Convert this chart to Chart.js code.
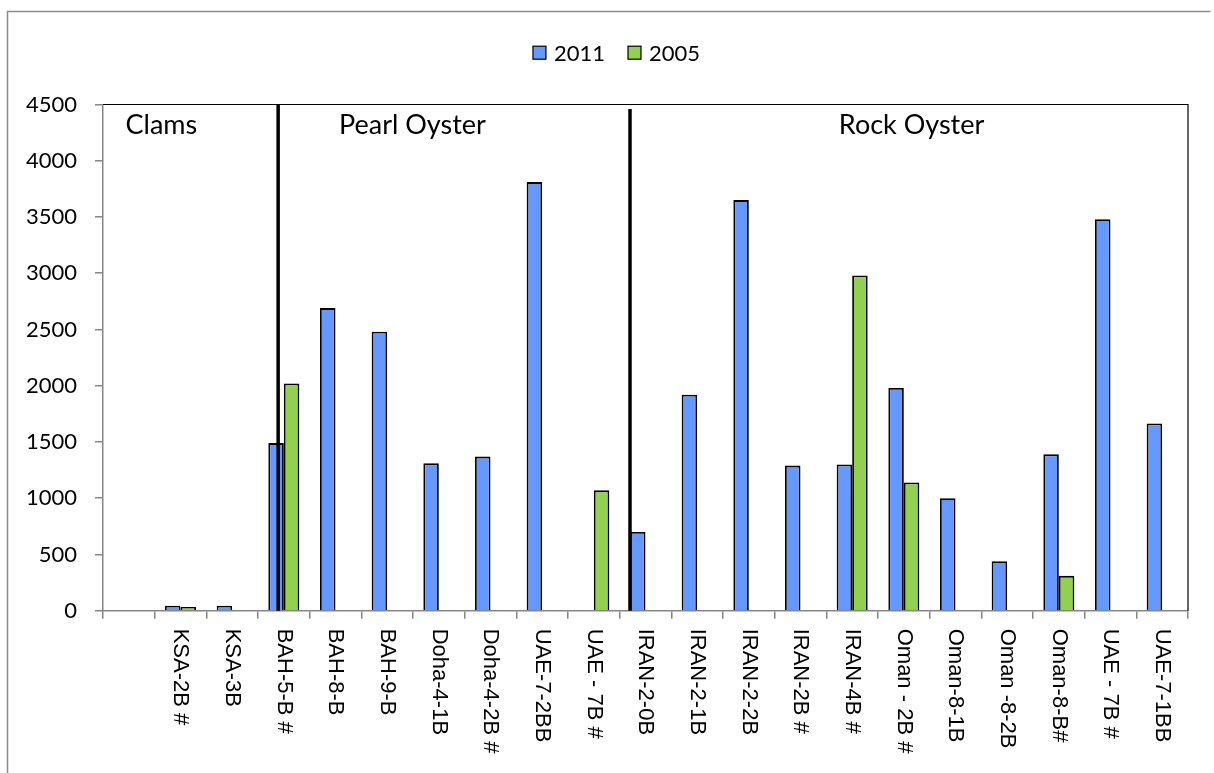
<!DOCTYPE html>
<html>
<head>
<meta charset="utf-8">
<script src="https://cdn.jsdelivr.net/npm/chart.js@4/dist/chart.umd.min.js"></script>
<style>
  html, body { margin: 0; padding: 0; background: #ffffff; }
  #wrap { width: 1214px; height: 773px; }
</style>
</head>
<body>
<div id="wrap"><canvas id="chart" width="1214" height="773"></canvas></div>
<script>
// Sampling sites (first slot left empty on the axis)
const categories = ['', 'KSA-2B #', 'KSA-3B', 'BAH-5-B #', 'BAH-8-B', 'BAH-9-B', 'Doha-4-1B',
  'Doha-4-2B #', 'UAE-7-2BB', 'UAE - 7B #', 'IRAN-2-0B', 'IRAN-2-1B', 'IRAN-2-2B', 'IRAN-2B #',
  'IRAN-4B #', 'Oman - 2B #', 'Oman-8-1B', 'Oman -8-2B', 'Oman-8-B#', 'UAE - 7B #', 'UAE-7-1BB'];

const values2011 = [null, 45, 45, 1490, 2690, 2480, 1310, 1370, 3810, null, 700, 1920, 3650,
  1290, 1300, 1980, 1000, 440, 1390, 3480, 1665];

const values2005 = [null, 32, null, 2020, null, null, null, null, null, 1070, null, null, null,
  null, 2980, 1140, null, null, 310, null, null];

const seriesNames = ['2011', '2005'];
const yTickValues = [0, 500, 1000, 1500, 2000, 2500, 3000, 3500, 4000, 4500];
const groupNames = ['Clams', 'Pearl Oyster', 'Rock Oyster'];

// Placement of the shellfish group captions and separators, in axis units
const groupLabelCenter = [0.63, 5.49, 15.15];
const dividerAt = [2.89, 9.70];
const dividerTop = [4500, 4460];

const AXIS_GREY = '#868686';

// Series key drawn above the plot, centred on the page
const seriesKey = {
  id: 'seriesKey',
  afterDraw(chart) {
    const { ctx } = chart;
    const box = 13, gapText = 8, gapItem = 23, centerX = 616.5, centerY = 52.7;
    ctx.save();
    ctx.font = '22px Lato';
    ctx.textBaseline = 'middle';
    ctx.textAlign = 'left';
    const items = chart.data.datasets.map(ds => ({
      text: ds.label, fill: ds.backgroundColor, width: ctx.measureText(ds.label).width
    }));
    const total = items.reduce((s, it) => s + box + gapText + it.width, 0) + gapItem * (items.length - 1);
    let cx = centerX - total / 2;
    items.forEach(it => {
      ctx.fillStyle = it.fill;
      ctx.fillRect(cx, centerY - box / 2, box, box);
      ctx.strokeStyle = '#000000';
      ctx.lineWidth = 1.2;
      ctx.strokeRect(cx, centerY - box / 2, box, box);
      ctx.fillStyle = '#000000';
      ctx.fillText(it.text, cx + box + gapText, centerY + 1);
      cx += box + gapText + it.width + gapItem;
    });
    ctx.restore();
  }
};

const decorations = {
  id: 'decorations',
  afterDatasetsDraw(chart) {
    const { ctx, chartArea, scales: { x, y } } = chart;
    ctx.save();
    // plot frame (top and right)
    ctx.strokeStyle = '#000000';
    ctx.lineWidth = 1.2;
    ctx.beginPath();
    ctx.moveTo(chartArea.left, chartArea.top);
    ctx.lineTo(chartArea.right, chartArea.top);
    ctx.lineTo(chartArea.right, chartArea.bottom);
    ctx.stroke();

    // group separators
    ctx.lineWidth = 3.5;
    dividerAt.forEach((pos, i) => {
      const px = x.getPixelForValue(pos);
      ctx.beginPath();
      ctx.moveTo(px, y.getPixelForValue(dividerTop[i]));
      ctx.lineTo(px, y.getPixelForValue(0));
      ctx.stroke();
    });

    // group captions
    ctx.fillStyle = '#000000';
    ctx.font = '27px Lato';
    ctx.textAlign = 'center';
    ctx.textBaseline = 'alphabetic';
    groupNames.forEach((name, i) => {
      ctx.fillText(name, x.getPixelForValue(groupLabelCenter[i]), chartArea.top + 29);
    });
    ctx.restore();
  },
  afterDraw(chart) {
    const { ctx, scales: { x } } = chart;
    ctx.save();
    // vertical category labels
    ctx.fillStyle = '#000000';
    ctx.font = '22px "Liberation Sans"';
    ctx.textAlign = 'left';
    ctx.textBaseline = 'middle';
    categories.forEach((label, i) => {
      if (!label) return;
      const px = x.getPixelForTick(i);
      ctx.save();
      ctx.translate(px, x.top + 18);
      ctx.rotate(Math.PI / 2);
      ctx.fillText(label, 0, 0);
      ctx.restore();
    });

    // outer frame
    ctx.strokeStyle = '#8c8c8c';
    ctx.lineWidth = 1.5;
    ctx.beginPath();
    ctx.moveTo(7.5, chart.height);
    ctx.lineTo(7.5, 11.5);
    ctx.lineTo(1210.5, 11.5);
    ctx.stroke();
    ctx.restore();
  }
};

new Chart(document.getElementById('chart'), {
  type: 'bar',
  data: {
    labels: categories,
    datasets: [
      {
        label: seriesNames[0],
        data: values2011,
        backgroundColor: '#6699FF',
        borderColor: '#000000',
        borderWidth: 1.8,
        categoryPercentage: 0.6,
        barPercentage: 1.0
      },
      {
        label: seriesNames[1],
        data: values2005,
        backgroundColor: '#92D050',
        borderColor: '#000000',
        borderWidth: 1.8,
        categoryPercentage: 0.6,
        barPercentage: 1.0
      }
    ]
  },
  options: {
    responsive: false,
    animation: false,
    devicePixelRatio: 1,
    layout: { padding: { left: 0, right: 26, top: 104.5, bottom: 0 } },
    plugins: {
      legend: { display: false },
      tooltip: { enabled: false }
    },
    scales: {
      x: {
        offset: true,
        grid: {
          offset: true,
          drawOnChartArea: false,
          drawTicks: true,
          tickLength: 8,
          color: AXIS_GREY,
          lineWidth: 1.5
        },
        border: { display: true, color: AXIS_GREY, width: 1.5 },
        ticks: { display: false },
        afterFit(scale) {
          scale.height = 162.3;
          scale.paddingLeft = 0;
          scale.paddingRight = 0;
        }
      },
      y: {
        min: 0,
        max: 4500,
        afterBuildTicks(scale) {
          scale.ticks = yTickValues.map(v => ({ value: v }));
        },
        grid: {
          drawOnChartArea: false,
          drawTicks: true,
          tickLength: 8,
          color: AXIS_GREY,
          lineWidth: 1.5
        },
        border: { display: true, color: AXIS_GREY, width: 1.5 },
        ticks: {
          font: { family: 'Lato', size: 22 },
          color: '#000000',
          padding: 18,
          callback: (value) => String(value)
        },
        afterFit(scale) {
          scale.width = 103;
          scale.paddingTop = 0;
          scale.paddingBottom = 0;
        }
      }
    }
  },
  plugins: [decorations, seriesKey]
});
</script>
</body>
</html>
